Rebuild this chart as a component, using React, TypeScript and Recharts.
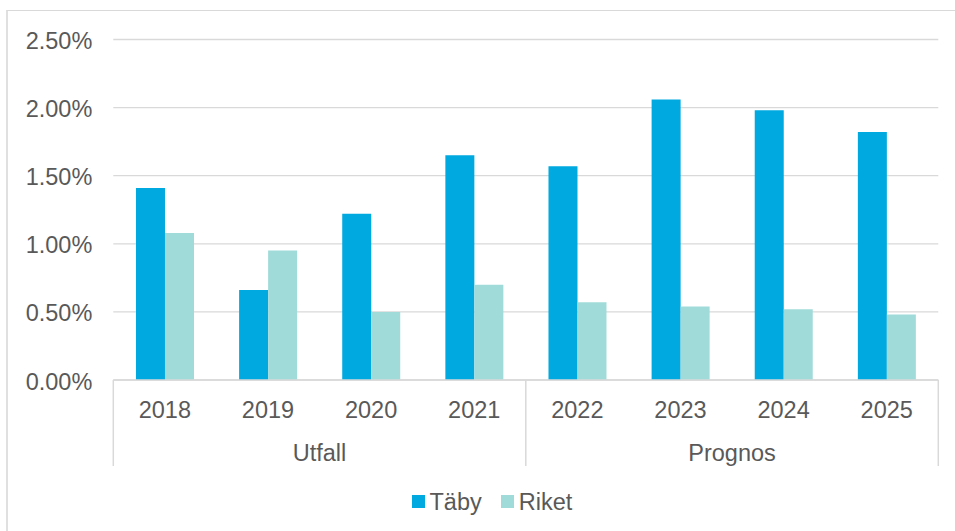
import React from 'react';
import { BarChart, Bar, XAxis, YAxis, CartesianGrid, Legend } from 'recharts';

const years = ['2018', '2019', '2020', '2021', '2022', '2023', '2024', '2025'];
const groups = ['Utfall', 'Utfall', 'Utfall', 'Utfall', 'Prognos', 'Prognos', 'Prognos', 'Prognos'];
const taby = [1.41, 0.66, 1.22, 1.65, 1.57, 2.06, 1.98, 1.82];
const riket = [1.08, 0.95, 0.5, 0.7, 0.57, 0.54, 0.52, 0.48];
const yTicks = [0, 0.5, 1, 1.5, 2, 2.5];
const seriesNames = ['Täby', 'Riket'];
const seriesColors = ['#00A9DF', '#A0DBD9'];

const data = years.map((y, i) => ({
  year: y,
  group: groups[i],
  [seriesNames[0]]: taby[i],
  [seriesNames[1]]: riket[i],
}));

const FONT = '"Liberation Sans", Arial, sans-serif';
const TEXT = '#595959';
const GRID = '#d9d9d9';
const FS = 23.5;

const YTick = (props: any) => {
  const { x, y, payload } = props;
  return (
    <text x={x} y={y + 9.5} textAnchor="end" fill={TEXT} fontSize={FS} fontFamily={FONT}>
      {payload.value.toFixed(2) + '%'}
    </text>
  );
};

const XTick = (props: any) => {
  const { x, y, payload, index, width, visibleTicksCount } = props;
  const count = visibleTicksCount || years.length;
  const band = width / count;
  const left = x - band / 2;
  const right = x + band / 2;
  const els: any[] = [];
  const firstOfGroup = index === 0 || groups[index] !== groups[index - 1];
  if (firstOfGroup) {
    els.push(<line key="l" x1={left} x2={left} y1={y} y2={y + 86} stroke={GRID} strokeWidth={1.5} />);
    let n = 0;
    while (index + n < groups.length && groups[index + n] === groups[index]) n++;
    els.push(
      <text key="g" x={left + (n * band) / 2} y={y + 80.5} textAnchor="middle" fill={TEXT} fontSize={FS} fontFamily={FONT}>
        {groups[index]}
      </text>
    );
  }
  if (index === years.length - 1) {
    els.push(<line key="r" x1={right} x2={right} y1={y} y2={y + 86} stroke={GRID} strokeWidth={1.5} />);
  }
  els.push(
    <text key="t" x={x} y={y + 38} textAnchor="middle" fill={TEXT} fontSize={FS} fontFamily={FONT}>
      {payload.value}
    </text>
  );
  return <g>{els}</g>;
};

const LegendContent = (props: any) => {
  const items = [...(props.payload || [])].sort(
    (a: any, b: any) => seriesNames.indexOf(a.value) - seriesNames.indexOf(b.value)
  );
  return (
    <div style={{ height: 40, display: 'flex', alignItems: 'center', justifyContent: 'flex-start', paddingLeft: 412, fontFamily: FONT, fontSize: FS, color: TEXT }}>
      {items.map((p: any, i: number) => (
        <div key={i} style={{ display: 'flex', alignItems: 'center', marginRight: 19.5 }}>
          <div style={{ width: 12.5, height: 12.5, background: p.color, marginRight: 5 }} />
          <span style={{ lineHeight: '40px' }}>{p.value}</span>
        </div>
      ))}
    </div>
  );
};

export default function App() {
  return (
    <div style={{ position: 'absolute', left: 0, top: 0, width: 955, height: 531, overflow: 'hidden', background: '#fff', fontFamily: FONT }}>
      <div style={{ position: 'absolute', left: 6, top: 10, width: 1000, height: 600, borderLeft: '2px solid #e0e0e0', borderTop: '1px solid #d9d9d9' }} />
      <div style={{ position: 'absolute', left: 0, top: 0 }}>
        <BarChart
          width={955}
          height={531}
          data={data}
          margin={{ top: 39.5, right: 16.7, left: 0, bottom: 9.5 }}
          barCategoryGap="22%"
          barGap={0}
        >
          <CartesianGrid vertical={false} stroke={GRID} strokeWidth={1.3} />
          <XAxis
            dataKey="year"
            interval={0}
            height={101.5}
            tickSize={0}
            tickMargin={0}
            tickLine={false}
            axisLine={{ stroke: GRID, strokeWidth: 1.5 }}
            tick={<XTick />}
          />
          <YAxis
            width={113.3}
            domain={[0, 2.5]}
            ticks={yTicks}
            interval={0}
            tickSize={0}
            tickMargin={21}
            tickLine={false}
            axisLine={false}
            tick={<YTick />}
          />
          <Legend verticalAlign="bottom" wrapperStyle={{ left: 0, width: 955 }} content={<LegendContent />} />
          {seriesNames.map((s, i) => (
            <Bar key={s} dataKey={s} fill={seriesColors[i]} isAnimationActive={false} />
          ))}
        </BarChart>
      </div>
    </div>
  );
}
